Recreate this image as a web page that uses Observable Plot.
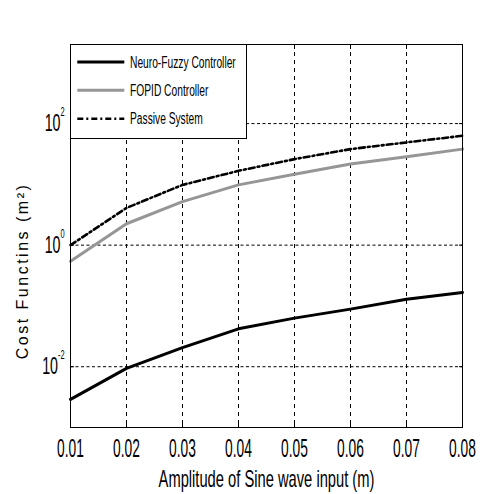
<!DOCTYPE html>
<html><head><meta charset="utf-8">
<script src="https://cdn.jsdelivr.net/npm/d3@7"></script>
<script src="https://cdn.jsdelivr.net/npm/@observablehq/plot@0.6"></script>
<style>
html,body{margin:0;padding:0;background:#fff;}
#wrap{position:relative;width:496px;height:494px;overflow:hidden;background:#fff;}
#legend{position:absolute;left:70px;top:44px;}
</style></head><body><div id="wrap"></div>
<script>
// ---- data ----
const amplitude = [0.01, 0.02, 0.03, 0.04, 0.05, 0.06, 0.07, 0.08];
const neuroFuzzy = [0.0029, 0.0094, 0.0206, 0.042, 0.063, 0.0886, 0.129, 0.167];
const fopid = [0.544, 2.25, 5.2, 9.8, 14.7, 21.6, 28.5, 38];
const passive = [1.0, 4.1, 9.8, 16.7, 26, 38, 49, 63];
const seriesNames = ["Neuro-Fuzzy Controller", "FOPID Controller", "Passive System"];
const xTicks = [0.01, 0.02, 0.03, 0.04, 0.05, 0.06, 0.07, 0.08];
const xGrid = [0.02, 0.03, 0.04, 0.05, 0.06, 0.07];
const yTicks = [1e-2, 1, 1e2];
const xLabel = "Amplitude of Sine wave input (m)";
const yLabel = "Cost Functins (m²)";

const styles = {
  "Neuro-Fuzzy Controller": {stroke: "#000", strokeWidth: 3, dash: null},
  "FOPID Controller": {stroke: "#969696", strokeWidth: 3, dash: null},
  "Passive System": {stroke: "#000", strokeWidth: 2.6, dash: "6,3,2,3"}
};

const toRows = (vals, name) => amplitude.map((a, i) => ({a, v: vals[i], s: name}));
const rowsN = toRows(neuroFuzzy, seriesNames[0]);
const rowsF = toRows(fopid, seriesNames[1]);
const rowsP = toRows(passive, seriesNames[2]);

const FONT = "Liberation Sans, Arial, sans-serif";

const plot = Plot.plot({
  width: 496, height: 494,
  marginTop: 44, marginBottom: 67, marginLeft: 70, marginRight: 34,
  style: {background: "#fff", fontFamily: FONT, color: "#000", overflow: "visible"},
  x: {domain: [0.01, 0.08]},
  y: {type: "log", domain: [1e-3, 2e3]},
  marks: [
    Plot.ruleX(xGrid, {stroke: "#000", strokeWidth: 1, strokeDasharray: "4,4"}),
    Plot.ruleY(yTicks, {stroke: "#000", strokeWidth: 1, strokeDasharray: "3,2.5"}),
    Plot.line(rowsF, {x: "a", y: "v", stroke: styles[seriesNames[1]].stroke, strokeWidth: 3}),
    Plot.line(rowsP, {x: "a", y: "v", stroke: "#000", strokeWidth: 2.6, strokeDasharray: "6,3,2,3"}),
    Plot.line(rowsN, {x: "a", y: "v", stroke: "#000", strokeWidth: 3}),
    Plot.axisX({ticks: xTicks, tickSize: -4, tickPadding: 15, tickFormat: d => d.toFixed(2),
      label: xLabel, labelAnchor: "center", labelOffset: 59, labelArrow: "none"}),
    Plot.axisX({anchor: "top", ticks: xTicks, tickSize: -4, tickFormat: () => "", label: null}),
    Plot.axisY({ticks: yTicks, tickSize: -4, tickPadding: 10,
      tickFormat: d => `10^${Math.round(Math.log10(d))}`,
      label: yLabel, labelAnchor: "center", labelOffset: 54, labelArrow: "none"}),
    Plot.axisY({anchor: "right", ticks: yTicks, tickSize: -4, tickFormat: () => "", label: null}),
    Plot.frame({stroke: "#000", strokeWidth: 1})
  ]
});

const wrap = document.getElementById("wrap");
wrap.appendChild(plot);

const svg = d3.select(plot);

function squeeze(node, sx, sy) {
  const b = node.getBBox();
  const anchor = getComputedStyle(node).textAnchor;
  const cx = anchor === "middle" ? b.x + b.width / 2 : anchor === "end" ? b.x + b.width : b.x;
  const cy = b.y + b.height / 2;
  const tr = node.getAttribute("transform") || "";
  node.setAttribute("transform", `${tr} translate(${cx},${cy}) scale(${sx},${sy}) translate(${-cx},${-cy})`);
}

// x tick labels
svg.selectAll('g[aria-label="x-axis tick label"]').attr("font-size", 26)
  .selectAll("text").each(function() { squeeze(this, 0.53, 1); });

// y tick labels with superscripts
svg.selectAll('g[aria-label="y-axis tick label"]').attr("font-size", 23)
  .selectAll("text").each(function() {
    const s = this.textContent;
    if (!s.includes("^")) return;
    const [base, exp] = s.split("^");
    const t = d3.select(this);
    t.text(null);
    t.append("tspan").text(base);
    t.append("tspan").attr("font-size", 12).attr("dy", "-15px").text(exp);
    squeeze(this, 0.62, 1);
  });

// x label
svg.selectAll('g[aria-label="x-axis label"]').attr("font-size", 23)
  .selectAll("text").each(function() { squeeze(this, 0.64, 1); });

// y label
svg.selectAll('g[aria-label="y-axis label"]').attr("font-size", 16).attr("letter-spacing", "2.5px")
  .selectAll("text").each(function() {
    const tr = this.getAttribute("transform") || "";
    this.setAttribute("transform", `translate(0,35) ${tr}`);
  });

// legend overlay
const leg = d3.select(wrap).append("svg").attr("id", "legend")
  .attr("width", 177).attr("height", 95).style("font-family", FONT);
leg.append("rect").attr("x", 0.5).attr("y", 0.5).attr("width", 176).attr("height", 94)
  .attr("fill", "#fff").attr("stroke", "#000");
const rowsY = [18, 46.3, 74.7];
const baseY = [24, 51.7, 80];
seriesNames.forEach((name, i) => {
  const st = styles[name];
  leg.append("line").attr("x1", 7.3).attr("x2", 54.3).attr("y1", rowsY[i]).attr("y2", rowsY[i])
    .attr("stroke", st.stroke).attr("stroke-width", st.strokeWidth)
    .attr("stroke-dasharray", st.dash);
  leg.append("text").attr("transform", `translate(60,${baseY[i]}) scale(0.64,1)`)
    .attr("font-size", 16).attr("fill", "#000").text(name);
});
</script>
</body></html>
